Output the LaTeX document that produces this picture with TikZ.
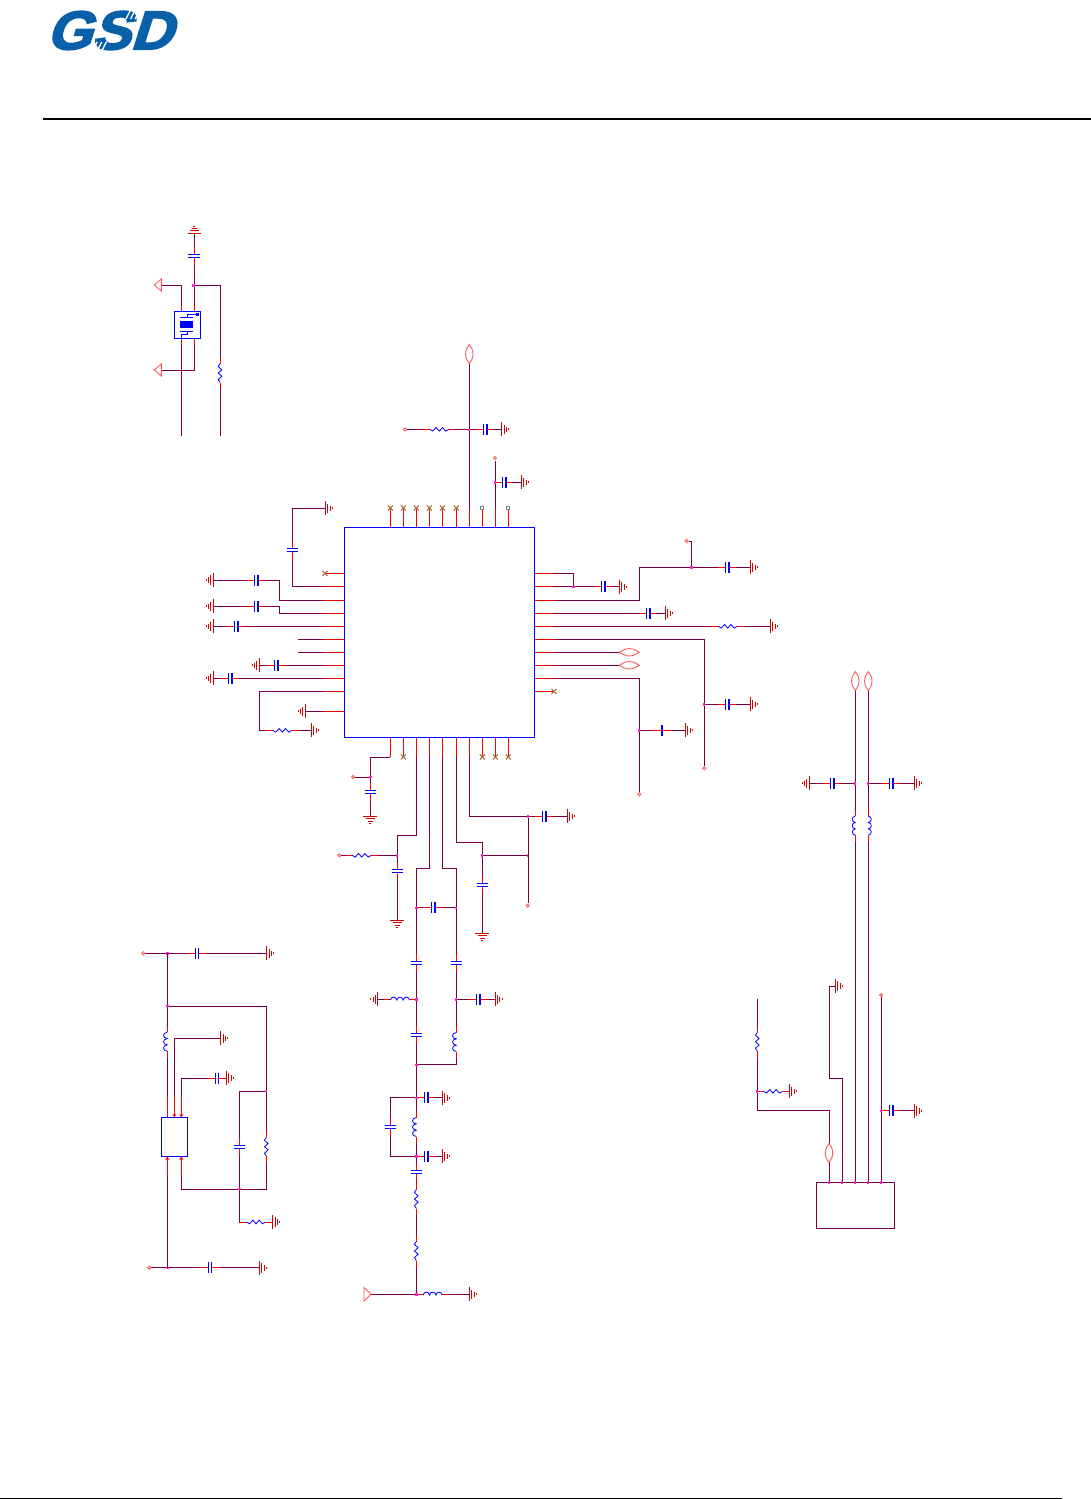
\documentclass[tikz,border=0pt]{standalone}
\usepackage{fontspec}
\newfontfamily\logofont[FakeBold=3.2,FakeSlant=0.3]{Liberation Sans Bold}
\definecolor{wine}{HTML}{7A0046}
\definecolor{gndred}{HTML}{D80000}
\definecolor{lenspink}{HTML}{FF5A5A}
\definecolor{jnc}{HTML}{FF20D0}
\definecolor{ncbrown}{HTML}{A5703A}
\definecolor{gsdblue}{HTML}{0A60A8}
\tikzset{
  wire/.style={draw=wine,line width=0.98pt,line join=miter},
  pinst/.style={draw=red,line width=0.98pt},
  part/.style={draw=blue,line width=0.8pt},
  platest/.style={draw=blue,line width=1.2pt},
  gndst/.style={draw=gndred,line width=0.98pt},
  lensst/.style={draw=lenspink,line width=0.9pt,fill=white},
  termst/.style={draw=lenspink,line width=0.9pt,fill=white},
  icbox/.style={draw=blue,line width=1.2pt,fill=none,inner sep=0pt,minimum width=#1},
  ncst/.style={draw=ncbrown,line width=1pt},
}
\newcommand{\capH}[2]{%
  \fill[white] (#1-2,#2-2) rectangle (#1+2,#2+2);
  \draw[pinst] (#1-9,#2)--(#1-1.7,#2) (#1+1.7,#2)--(#1+9,#2);
  \draw[platest] (#1-1.7,#2-5.5)--(#1-1.7,#2+5.5) (#1+1.7,#2-5.5)--(#1+1.7,#2+5.5);}
\newcommand{\capV}[2]{%
  \fill[white] (#1-2,#2-2) rectangle (#1+2,#2+2);
  \draw[pinst] (#1,#2-9)--(#1,#2-1.5) (#1,#2+1.5)--(#1,#2+9);
  \draw[platest] (#1-5.8,#2-1.5)--(#1+5.8,#2-1.5) (#1-5.8,#2+1.5)--(#1+5.8,#2+1.5);}
\newcommand{\capT}[2]{%
  \fill[white] (#1-2,#2-2) rectangle (#1+2,#2+2);
  \draw[pinst] (#1-10,#2)--(#1+10,#2);
  \draw[draw=blue,line width=2pt] (#1,#2-5.5)--(#1,#2+5.5);}
\newcommand{\resH}[2]{%
  \fill[white] (#1-10,#2-1.5) rectangle (#1+10,#2+1.5);
  \draw[pinst] (#1-16,#2)--(#1-9.5,#2) (#1+9.5,#2)--(#1+16,#2);
  \draw[part] (#1-9.5,#2)--(#1-6.5,#2+1.8)--(#1-3.2,#2-1.8)--(#1,#2+1.8)--(#1+3.2,#2-1.8)--(#1+6.5,#2+1.8)--(#1+9.5,#2);}
\newcommand{\resV}[2]{%
  \fill[white] (#1-1.5,#2-10) rectangle (#1+1.5,#2+10);
  \draw[pinst] (#1,#2-16)--(#1,#2-9.5) (#1,#2+9.5)--(#1,#2+16);
  \draw[part] (#1,#2-9.5)--(#1-1.8,#2-6.5)--(#1+1.8,#2-3.2)--(#1-1.8,#2)--(#1+1.8,#2+3.2)--(#1-1.8,#2+6.5)--(#1,#2+9.5);}
\newcommand{\indH}[2]{%
  \fill[white] (#1-10,#2-1.5) rectangle (#1+10,#2+1.5);
  \draw[pinst] (#1-16,#2)--(#1-9.5,#2) (#1+9.5,#2)--(#1+16,#2);
  \draw[part] (#1-9.5,#2+0.8) .. controls (#1-9,#2-3.2) and (#1-3.8,#2-3.2) .. (#1-3.2,#2+0.8)
     .. controls (#1-2.8,#2-3.2) and (#1+2.8,#2-3.2) .. (#1+3.2,#2+0.8)
     .. controls (#1+3.8,#2-3.2) and (#1+9,#2-3.2) .. (#1+9.5,#2+0.8);}
% third argument: side on which the coil bulges
\newcommand{\indV}[3]{%
  \fill[white] (#1-1.5,#2-10) rectangle (#1+1.5,#2+10);
  \draw[pinst] (#1,#2-16)--(#1,#2-9.5) (#1,#2+9.5)--(#1,#2+16);
  \draw[part] (#1,#2-9.5) .. controls (#1+#3*5,#2-9) and (#1+#3*5,#2-3.6) .. (#1,#2-3.2)
     .. controls (#1+#3*5,#2-2.8) and (#1+#3*5,#2+2.8) .. (#1,#2+3.2)
     .. controls (#1+#3*5,#2+3.6) and (#1+#3*5,#2+9) .. (#1,#2+9.5);}
\newcommand{\gndR}[2]{\draw[gndst] (#1,#2-7)--(#1,#2+7) (#1+2.4,#2-4.8)--(#1+2.4,#2+4.8) (#1+4.7,#2-2.8)--(#1+4.7,#2+2.8) (#1+7,#2-1)--(#1+7,#2+1);}
\newcommand{\gndL}[2]{\draw[gndst] (#1,#2-7)--(#1,#2+7) (#1-2.4,#2-4.8)--(#1-2.4,#2+4.8) (#1-4.7,#2-2.8)--(#1-4.7,#2+2.8) (#1-7,#2-1)--(#1-7,#2+1);}
\newcommand{\gndD}[2]{\draw[gndst] (#1-7,#2)--(#1+7,#2) (#1-4.8,#2+2.4)--(#1+4.8,#2+2.4) (#1-2.8,#2+4.7)--(#1+2.8,#2+4.7) (#1-1,#2+7)--(#1+1,#2+7);}
\newcommand{\gndU}[2]{\draw[gndst] (#1-6.5,#2)--(#1+6.5,#2) (#1-4.5,#2-2.2)--(#1+4.5,#2-2.2) (#1-2.5,#2-4.2)--(#1+2.5,#2-4.2) (#1-1,#2-6.2)--(#1+1,#2-6.2);}
\newcommand{\lensV}[2]{\draw[lensst] (#1,#2-9.5) .. controls (#1+1.5,#2-7) and (#1+3.7,#2-5) .. (#1+3.7,#2) .. controls (#1+3.7,#2+5) and (#1+1.5,#2+7) .. (#1,#2+9.5) .. controls (#1-1.5,#2+7) and (#1-3.7,#2+5) .. (#1-3.7,#2) .. controls (#1-3.7,#2-5) and (#1-1.5,#2-7) .. cycle;}
\newcommand{\lensH}[2]{\draw[lensst] (#1-10,#2) .. controls (#1-7,#2-1.5) and (#1-5,#2-3.7) .. (#1,#2-3.7) .. controls (#1+5,#2-3.7) and (#1+7,#2-1.5) .. (#1+10,#2) .. controls (#1+7,#2+1.5) and (#1+5,#2+3.7) .. (#1,#2+3.7) .. controls (#1-5,#2+3.7) and (#1-7,#2+1.5) .. cycle;}
\newcommand{\jn}[2]{\fill[jnc] (#1-1.2,#2-1.2) rectangle (#1+1.2,#2+1.2);}
\newcommand{\term}[2]{\draw[termst] (#1,#2) circle (1.6);}
\newcommand{\ncx}[2]{\draw[ncst] (#1-2.5,#2-2.5)--(#1+2.5,#2+2.5) (#1-2.5,#2+2.5)--(#1+2.5,#2-2.5);}
\newcommand{\sqpin}[2]{\draw[draw=gray,line width=0.9pt,fill=white] (#1-1.6,#2-1.6) rectangle (#1+1.6,#2+1.6);}
\begin{document}
\begin{tikzpicture}[x=1pt,y=-1pt]
\useasboundingbox (0,0) rectangle (1091,1499);
\fill[white] (0,0) rectangle (1091,1499);
% header and footer
\node[text=gsdblue,inner sep=0pt,xscale=2.9,yscale=2.72,font=\logofont\fontsize{20}{20}\selectfont,anchor=center] (logo) at (109,30.5) {GSD};
\foreach \k in {0,1,2,3} {
  \draw[white,line width=1.3pt] (126+\k*4.6,19)--(131+\k*4.6,9);
  \draw[white,line width=1.3pt] (87.5+\k*4.6,52)--(92.5+\k*4.6,42);
}
\draw[black,line width=2pt] (43,119)--(1091,119);
\draw[black,line width=0.98pt] (0,1498)--(1062,1498);

% ---------- top left part
\draw[wire] (194,233)--(194,311);
\draw[wire] (194,285)--(220,285)--(220,436);
\draw[wire] (161,285)--(181,285)--(181,311);
\draw[wire] (181,338)--(181,436);
\draw[wire] (194,338)--(194,370)--(161,370);
\draw[pinst] (181,305)--(181,311) (194,305)--(194,311) (181,338)--(181,344) (194,338)--(194,344);
\gndU{194}{233}
\capV{194}{255.7}
\resV{220}{373}
\jn{193.5}{285.5}
\draw[lensst] (161.3,279)--(154.3,285)--(161.3,291)--cycle;
\draw[lensst] (161.3,364)--(154.3,370)--(161.3,376)--cycle;
\node[icbox=26pt,minimum height=27pt] (xtal) at (187.3,324.8) {};
\fill[blue] (180,320.7) rectangle (193.3,328.3);
\draw[draw=blue,line width=1pt] (180,317.2)--(193.3,317.2) (180,331.5)--(193.3,331.5);
\draw[draw=blue,line width=0.8pt] (187,317)--(187,314.6)--(197,314.6) (181,338)--(181,334.2)--(187.5,334.2)--(187.5,331.5);
\fill[blue] (195.5,313) rectangle (198.5,316.2);

% ---------- main IC
% top
\foreach \x in {390.3,403.3,416.3,429.3,442.3,456.3} {\draw[pinst] (\x,527.5)--(\x,508.5); \ncx{\x}{508}}
\foreach \x in {482.3,508.3} {\draw[pinst] (\x,527.5)--(\x,509.5); \sqpin{\x}{508}}
\draw[wire] (469.3,508)--(469.3,363);
\draw[pinst] (469.3,527.5)--(469.3,508);
\lensV{469.3}{354}
\draw[wire] (405,429.3)--(485,429.3) (485,429.3)--(501.7,429.3);
\term{405}{429.3}
\resH{439.3}{429.3}
\capH{485.3}{429.3}
\gndR{501.7}{429.3}
\jn{468.8}{429.8}
\draw[wire] (495.3,508)--(495.3,461);
\draw[pinst] (495.3,527.5)--(495.3,508);
\term{495}{458}
\draw[wire] (495.3,482.3)--(521.3,482.3);
\capH{504.3}{482.3}
\gndR{521.3}{482.3}
\jn{494.8}{482.3}
% left
\draw[pinst] (344.5,573.3)--(326,573.3);
\ncx{325}{573.3}
\draw[wire] (325,586.3)--(292.3,586.3)--(292.3,508.3)--(325.3,508.3);
\capV{292.3}{550.3}
\gndR{325.3}{508.3}
\draw[wire] (325,600.3)--(279.3,600.3)--(279.3,580)--(213.3,580);
\capH{256.3}{580}
\gndL{213.3}{580}
\draw[wire] (325,613.3)--(279.3,613.3)--(279.3,606.3)--(213.3,606.3);
\capH{256.3}{606.3}
\gndL{213.3}{606.3}
\draw[wire] (325,626.3)--(213.3,626.3);
\capH{236.3}{626.3}
\gndL{213.3}{626.3}
\draw[wire] (325,639.3)--(298.3,639.3) (325,652.3)--(298.3,652.3);
\draw[wire] (325,665.3)--(259.3,665.3);
\capH{276.3}{665.3}
\gndL{259.3}{665.3}
\draw[wire] (325,678.3)--(213.3,678.3);
\capH{230.3}{678.3}
\gndL{213.3}{678.3}
\draw[wire] (325,691.3)--(259.3,691.3)--(259.3,730.3)--(311.3,730.3);
\resH{282.3}{730.3}
\gndR{311.3}{730.3}
\draw[wire] (325,711.3)--(305.3,711.3);
\gndL{305.3}{711.3}
\foreach \y in {586.3,600.3,613.3,626.3,639.3,652.3,665.3,678.3,691.3,711.3} {\draw[pinst] (344.5,\y)--(325,\y);}
% right
\draw[wire] (554,573.3)--(573.3,573.3)--(573.3,586.7);
\draw[wire] (554,586.7)--(619.3,586.7);
\capH{603.3}{586.7}
\gndR{619.3}{586.7}
\jn{573.3}{587}
\draw[wire] (554,600.3)--(639.3,600.3)--(639.3,567.3)--(750.3,567.3);
\draw[wire] (691.3,567.3)--(691.3,541)--(689,541);
\term{686.7}{541}
\capH{727.3}{567.3}
\gndR{750.3}{567.3}
\jn{691.3}{567.5}
\draw[wire] (554,613.3)--(665.3,613.3);
\capH{648.3}{613.3}
\gndR{665.3}{613.3}
\draw[wire] (554,626.3)--(770.3,626.3);
\resH{727.7}{626.3}
\gndR{770.3}{626.3}
\draw[wire] (554,639.3)--(704.3,639.3)--(704.3,766);
\term{704.3}{768.3}
\draw[wire] (704.3,704.3)--(750.3,704.3);
\capH{727.3}{704.3}
\gndR{750.3}{704.3}
\jn{704}{704.5}
\draw[wire] (554,652.3)--(620,652.3) (554,665.3)--(620,665.3);
\lensH{629.3}{652.3}
\lensH{629.3}{665.3}
\draw[wire] (554,678.3)--(639.3,678.3)--(639.3,792);
\term{639.3}{794.3}
\draw[wire] (639.3,730.3)--(685.3,730.3);
\capT{662}{730.3}
\gndR{685.3}{730.3}
\jn{639}{730.5}
\draw[pinst] (534.5,691.3)--(553,691.3);
\ncx{554}{691.3}
\foreach \y in {573.3,586.7,600.3,613.3,626.3,639.3,652.3,665.3,678.3} {\draw[pinst] (534.5,\y)--(554,\y);}
% bottom
\foreach \x in {403.3,482.3,495.3,508.3} {\draw[pinst] (\x,737.5)--(\x,756); \ncx{\x}{757}}
\draw[wire] (390.3,757)--(370.3,757)--(370.3,816.3);
\draw[wire] (370.3,777)--(355,777);
\term{353}{777}
\capV{370.3}{792.3}
\gndD{370.3}{816.3}
\jn{370.3}{777}
\draw[wire] (416.3,757)--(416.3,835.3)--(397.3,835.3)--(397.3,920.3);
\draw[wire] (397.3,855.3)--(341,855.3);
\term{339.3}{855.3}
\resH{361.7}{855.3}
\capV{397.3}{871.3}
\gndD{397.3}{920.3}
\jn{397}{855.3}
\draw[wire] (429.3,757)--(429.3,868.3)--(416.3,868.3)--(416.3,1294.3);
\draw[wire] (442.3,757)--(442.3,868.3)--(456.3,868.3)--(456.3,1064.7)--(416.3,1064.7);
\draw[wire] (416.3,907.7)--(456.3,907.7);
\capH{433.3}{907.7}
\jn{416.3}{907.7}\jn{456}{907.7}
\capV{416.3}{963.3}
\capV{456.3}{963.3}
\draw[wire] (377.7,999.3)--(416.3,999.3);
\indH{400}{999.3}
\gndL{377.7}{999.3}
\jn{416.3}{999.3}
\draw[wire] (456.3,999.3)--(495,999.3);
\capH{478.3}{999.3}
\gndR{495}{999.3}
\jn{456}{999.3}
\draw[wire] (456.3,757)--(456.3,842.3)--(482.3,842.3)--(482.3,933.3);
\draw[wire] (482.3,855.3)--(528.3,855.3);
\capV{482.3}{885.3}
\gndD{482.3}{933.3}
\jn{482}{855.3}\jn{528}{855.3}
\draw[wire] (469.3,757)--(469.3,816.3)--(567.3,816.3);
\draw[wire] (528.3,816.3)--(528.3,903);
\term{527.7}{905.7}
\capH{544.3}{816.3}
\gndR{567.3}{816.3}
\jn{528}{816.3}
\foreach \x in {390.3,416.3,429.3,442.3,456.3,469.3} {\draw[pinst] (\x,737.5)--(\x,757);}
\node[icbox=190pt,minimum height=210pt] (mainic) at (439.5,632.5) {};

% ---------- balun / filter chain
\capV{416.3}{1035}
\indV{456.3}{1042}{-1}
\jn{416.3}{1064.7}
\draw[wire] (416.3,1097.7)--(442.3,1097.7);
\capH{426.3}{1097.7}
\gndR{442.3}{1097.7}
\draw[wire] (416.3,1097.7)--(390.3,1097.7)--(390.3,1156.3)--(442.3,1156.3);
\capV{390.3}{1127}
\indV{416.3}{1127}{-1}
\jn{416.3}{1097.7}
\capH{426.3}{1156.3}
\gndR{442.3}{1156.3}
\jn{416.3}{1156.3}
\capV{416.3}{1172.3}
\resV{416.3}{1199}
\resV{416.3}{1251}
\draw[wire] (371,1294.3)--(469.3,1294.3);
\draw[lensst] (364,1287.5)--(371,1294.3)--(364,1301)--cycle;
\indH{432.7}{1294.3}
\gndR{469.3}{1294.3}
\jn{416.3}{1294.3}

% ---------- bottom left regulator
\draw[wire] (145,953.3)--(266.7,953.3);
\term{143.3}{953.3}
\capH{197}{953.3}
\gndR{266.7}{953.3}
\jn{167.3}{953.3}
\draw[wire] (167.3,953.3)--(167.3,1117.3);
\draw[wire] (167.3,1006)--(266.3,1006)--(266.3,1189)--(181.3,1189)--(181.3,1156.3);
\jn{167.3}{1006}
\indV{167.3}{1041.7}{-1}
\draw[wire] (174.3,1117.3)--(174.3,1038.3)--(220.7,1038.3);
\gndR{220.7}{1038.3}
\draw[wire] (181.3,1117.3)--(181.3,1078)--(226.3,1078);
\capH{217}{1078}
\gndR{226.3}{1078}
\draw[wire] (266.3,1091)--(239.3,1091)--(239.3,1222)--(272.7,1222);
\jn{266}{1091}
\capV{239.3}{1147}
\resV{266.3}{1146.7}
\jn{239.3}{1189}
\resH{256}{1222}
\gndR{272.7}{1222}
\draw[wire] (151,1267.7)--(259.3,1267.7);
\term{149.3}{1267.7}
\capH{210}{1267.7}
\gndR{259.3}{1267.7}
\jn{167.3}{1267.7}
\draw[wire] (167.3,1267.7)--(167.3,1156.3);
\draw[pinst] (167.3,1097)--(167.3,1117.3) (174.3,1097)--(174.3,1114) (181.3,1097)--(181.3,1114)
  (167.3,1159)--(167.3,1176) (181.3,1159)--(181.3,1176);
\fill[red] (172.3,1114.3)--(176.3,1114.3)--(174.3,1117.3)--cycle (179.3,1114.3)--(183.3,1114.3)--(181.3,1117.3)--cycle
  (165.3,1159.5)--(169.3,1159.5)--(167.3,1156.5)--cycle (179.3,1159.5)--(183.3,1159.5)--(181.3,1156.5)--cycle;
\node[icbox=26pt,minimum height=39pt] (reg) at (174.3,1136.8) {};

% ---------- right connector
\draw[wire] (855.3,690)--(855.3,1182.3) (868.3,690)--(868.3,1182.3);
\lensV{855.3}{681}
\lensV{868.3}{681}
\draw[wire] (809.3,783.3)--(855.3,783.3) (868.3,783.3)--(914.3,783.3);
\capH{832.3}{783.3}
\capH{891.3}{783.3}
\gndL{809.3}{783.3}
\gndR{914.3}{783.3}
\jn{855}{783.3}\jn{868}{783.3}
\indV{855.3}{825.7}{-0.8}
\indV{868.3}{825.7}{0.8}
\draw[wire] (881,1182.3)--(881,997);
\term{881}{995}
\draw[wire] (881,1110.7)--(914.3,1110.7);
\capH{891.3}{1110.7}
\gndR{914.3}{1110.7}
\jn{881}{1110.7}
\draw[wire] (829,1182.3)--(829,1110.3)--(757.3,1110.3)--(757.3,999.3);
\lensV{829}{1153}
\resV{757.3}{1041.7}
\draw[wire] (757.3,1091.3)--(789.3,1091.3);
\resH{773}{1091.3}
\gndR{789.3}{1091.3}
\jn{757}{1091.3}
\draw[wire] (842,1182.3)--(842,1078.3)--(829.3,1078.3)--(829.3,986)--(835.3,986);
\gndR{835.3}{986}
\node[draw=wine,line width=1.2pt,inner sep=0pt,minimum width=78pt,minimum height=46pt] (conn) at (855.3,1205.3) {};
\jn{829}{1182.5}\jn{842}{1182.5}\jn{855}{1182.5}\jn{868}{1182.5}\jn{881}{1182.5}
\end{tikzpicture}
\end{document}
